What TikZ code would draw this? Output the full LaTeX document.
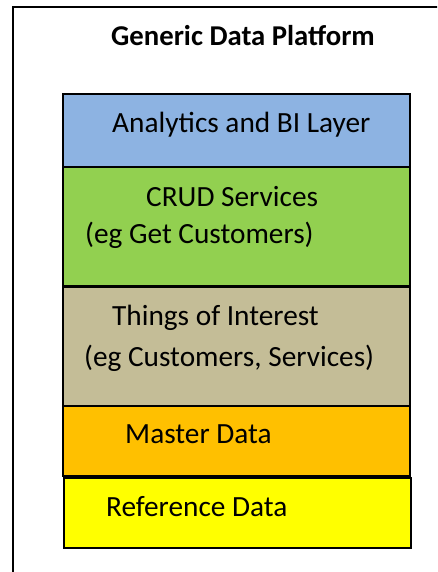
\documentclass[tikz,border=0pt]{standalone}
\usepackage{fontspec}
\setmainfont{Carlito}
\definecolor{analyticsblue}{HTML}{8DB3E2}
\definecolor{crudgreen}{HTML}{92D050}
\definecolor{thingstan}{HTML}{C4BD97}
\definecolor{masterorange}{HTML}{FFC000}
\definecolor{refyellow}{HTML}{FFFF00}
\begin{document}
\begin{tikzpicture}
  [x=1pt,y=-1pt,
   layerbox/.style={draw=black,line width=2pt,minimum width=347pt,inner sep=0pt},
   layertext/.style={anchor=base west,inner sep=0pt,font=\fontsize{29.3}{35}\selectfont},
   titletext/.style={anchor=base west,inner sep=0pt,font=\fontsize{28.7}{34}\selectfont\bfseries}]
  \useasboundingbox (0,0) rectangle (437,572);
  \clip (0,0) rectangle (437,572);
  \draw[line width=2pt] (13,7) rectangle (470,620);

  \node[titletext] (title) at (111,46) {Generic Data Platform};

  \node[layerbox,fill=analyticsblue,minimum height=73pt]  (analytics) at (236.5,130.5) {};
  \node[layerbox,fill=crudgreen,minimum height=119pt]     (crud)      at (236.5,226.5) {};
  \node[layerbox,fill=thingstan,minimum height=119pt]     (things)    at (236.5,346.5) {};
  \node[layerbox,fill=masterorange,minimum height=70pt]   (master)    at (236.5,441) {};
  \node[layerbox,fill=refyellow,minimum height=70pt]      (reference) at (237.5,513) {};

  \node[layertext] (analyticslbl) at (112,133) {Analytics and BI Layer};
  \node[layertext] (crudlbl)      at (146,206) {CRUD Services};
  \node[layertext] (crudeg)       at (85,243)  {(eg Get Customers)};
  \node[layertext] (thingslbl)    at (112,325) {Things of Interest};
  \node[layertext] (thingseg)     at (84,366)  {(eg Customers, Services)};
  \node[layertext] (masterlbl)    at (125,443) {Master Data};
  \node[layertext] (referencelbl) at (106,516) {Reference Data};

\end{tikzpicture}
\end{document}
